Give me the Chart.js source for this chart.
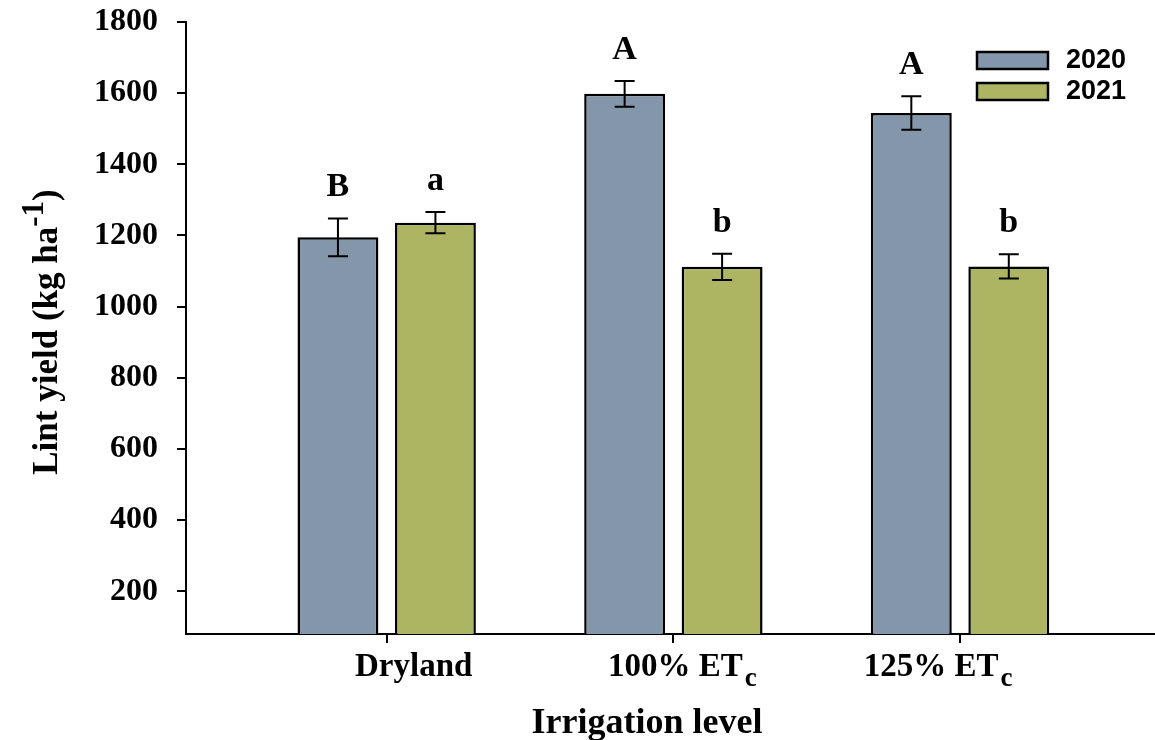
<!DOCTYPE html>
<html>
<head>
<meta charset="utf-8">
<script src="https://cdn.jsdelivr.net/npm/chart.js@4"></script>
<style>
  body { margin: 0; background: #fff; }
  #wrap { width: 1155px; height: 740px; }
</style>
</head>
<body>
<div id="wrap"><canvas id="yieldChart" width="1155" height="740"></canvas></div>
<script>
// irrigation levels, main text + subscript
const categories = ['Dryland', '100% ET', '125% ET'];
const categorySubs = ['', 'c', 'c'];
const seriesNames = ['2020', '2021'];

// lint yield (kg/ha) and error bars
const yield2020 = [1195, 1598, 1544];
const yield2021 = [1236, 1112, 1113];
const err2020 = [53, 36, 47];
const err2021 = [30, 37, 34];

// mean separation letters
const letters2020 = ['B', 'A', 'A'];
const letters2021 = ['a', 'b', 'b'];

const yTicks = [200, 400, 600, 800, 1000, 1200, 1400, 1600, 1800];

const colors = ['#8496aa', '#adb563'];
const serif = '"Liberation Serif", "Times New Roman", serif';
const sans = '"Liberation Sans", Arial, sans-serif';

// error bars, letters, legend, axis labels with sub/superscripts
const extrasPlugin = {
    id: 'extras',
    afterDatasetsDraw(chart) {
        const ctx = chart.ctx;
        const yScale = chart.scales.y;
        const errs = [err2020, err2021];
        const letters = [letters2020, letters2021];
        ctx.save();
        chart.data.datasets.forEach((ds, d) => {
            const meta = chart.getDatasetMeta(d);
            meta.data.forEach((bar, i) => {
                const v = ds.data[i].y;
                const top = yScale.getPixelForValue(v + errs[d][i]);
                const bot = yScale.getPixelForValue(v - errs[d][i]);
                ctx.strokeStyle = '#000';
                ctx.lineWidth = 2;
                ctx.beginPath();
                ctx.moveTo(bar.x, top); ctx.lineTo(bar.x, bot);
                ctx.moveTo(bar.x - 10, top); ctx.lineTo(bar.x + 10, top);
                ctx.moveTo(bar.x - 10, bot); ctx.lineTo(bar.x + 10, bot);
                ctx.stroke();

                ctx.fillStyle = '#000';
                ctx.font = 'bold 34px ' + serif;
                ctx.textAlign = 'center';
                ctx.textBaseline = 'alphabetic';
                ctx.fillText(letters[d][i], bar.x, top - 22);
            });
        });
        ctx.restore();
    },
    afterDraw(chart) {
        const ctx = chart.ctx;
        const xScale = chart.scales.x;
        ctx.save();
        ctx.fillStyle = '#000';

        // legend
        chart.data.datasets.forEach((ds, d) => {
            const y = 52 + d * 31;
            ctx.fillStyle = ds.backgroundColor;
            ctx.fillRect(977, y, 71, 17);
            ctx.strokeStyle = '#000';
            ctx.lineWidth = 2.5;
            ctx.strokeRect(977, y, 71, 17);
            ctx.fillStyle = '#000';
            ctx.font = 'bold 27px ' + sans;
            ctx.textAlign = 'left';
            ctx.textBaseline = 'middle';
            ctx.fillText(ds.label, 1066, y + 9);
        });

        // category labels
        const labelShift = [27, 9, -22];
        categories.forEach((c, i) => {
            const cx = xScale.getPixelForValue(i) + labelShift[i];
            ctx.font = 'bold 33px ' + serif;
            const w1 = ctx.measureText(c).width;
            ctx.font = 'bold 27px ' + serif;
            const w2 = categorySubs[i] ? ctx.measureText(categorySubs[i]).width + 2 : 0;
            const x0 = cx - (w1 + w2) / 2;
            ctx.textAlign = 'left';
            ctx.textBaseline = 'alphabetic';
            ctx.font = 'bold 33px ' + serif;
            ctx.fillText(c, x0, 676);
            if (categorySubs[i]) {
                ctx.font = 'bold 27px ' + serif;
                ctx.fillText(categorySubs[i], x0 + w1 + 2, 686);
            }
        });

        // x title
        ctx.font = 'bold 36px ' + serif;
        ctx.textAlign = 'center';
        ctx.fillText('Irrigation level', 647, 733);

        // y title with superscript
        ctx.translate(57, 332);
        ctx.rotate(-Math.PI / 2);
        const parts = [
            { t: 'Lint yield (kg ha', f: 'bold 35px ', dy: 0 },
            { t: '-1', f: 'bold 31px ', dy: -14 },
            { t: ')', f: 'bold 35px ', dy: 0 }
        ];
        let total = 0;
        parts.forEach(p => { ctx.font = p.f + serif; p.w = ctx.measureText(p.t).width; total += p.w; });
        let x = -total / 2;
        ctx.textAlign = 'left';
        parts.forEach(p => {
            ctx.font = p.f + serif;
            ctx.fillText(p.t, x, p.dy);
            x += p.w;
        });
        ctx.restore();
    }
};

const ctx = document.getElementById('yieldChart').getContext('2d');

new Chart(ctx, {
    type: 'bar',
    data: {
        datasets: [
            {
                label: seriesNames[0],
                data: yield2020.map((v, i) => ({ x: i, y: v })),
                backgroundColor: colors[0],
                borderColor: '#000',
                borderWidth: 2.5,
                borderSkipped: false
            },
            {
                label: seriesNames[1],
                data: yield2021.map((v, i) => ({ x: i, y: v })),
                backgroundColor: colors[1],
                borderColor: '#000',
                borderWidth: 2.5,
                borderSkipped: false
            }
        ]
    },
    options: {
        responsive: false,
        animation: false,
        categoryPercentage: 0.68,
        barPercentage: 0.83,
        layout: { padding: { top: 22, left: 0, right: 0, bottom: 0 } },
        scales: {
            x: {
                type: 'linear',
                min: -0.7,
                max: 2.68,
                offset: false,
                afterBuildTicks: (scale) => { scale.ticks = categories.map((c, i) => ({ value: i })); },
                afterFit: (scale) => { scale.height = 106; },
                ticks: { display: false },
                grid: {
                    offset: false,
                    drawOnChartArea: false,
                    drawTicks: true,
                    tickLength: 9,
                    color: '#000',
                    lineWidth: 2
                },
                border: { color: '#000', width: 2 }
            },
            y: {
                min: 80,
                max: 1800,
                afterBuildTicks: (scale) => { scale.ticks = yTicks.map(v => ({ value: v })); },
                afterFit: (scale) => {
                    scale.width = 186;
                    scale.paddingTop = 0;
                    scale.paddingBottom = 0;
                },
                ticks: {
                    color: '#000',
                    padding: 19,
                    font: { family: serif, size: 32, weight: 'bold' },
                    callback: (v) => String(v)
                },
                grid: {
                    drawOnChartArea: false,
                    drawTicks: true,
                    tickLength: 9,
                    color: '#000',
                    lineWidth: 2
                },
                border: { color: '#000', width: 2 }
            }
        },
        plugins: {
            legend: { display: false },
            tooltip: { enabled: false }
        }
    },
    plugins: [extrasPlugin]
});
</script>
</body>
</html>
